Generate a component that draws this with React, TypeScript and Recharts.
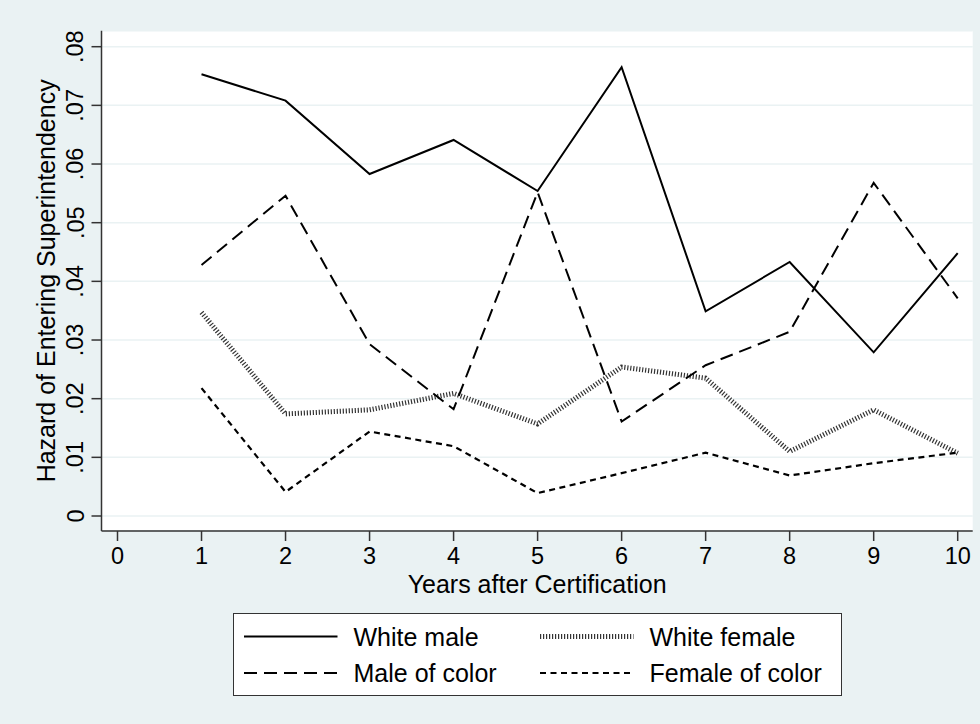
import React from 'react';
import { LineChart, Line, XAxis, YAxis, CartesianGrid, Legend, Label } from 'recharts';

const years = [1, 2, 3, 4, 5, 6, 7, 8, 9, 10];
const whiteMale = [0.0753, 0.0708, 0.0583, 0.0641, 0.0554, 0.0765, 0.0349, 0.0433, 0.0279, 0.0448];
const whiteFemale = [0.0347, 0.0174, 0.0181, 0.0209, 0.0157, 0.0254, 0.0235, 0.011, 0.0181, 0.0107];
const maleOfColor = [0.0428, 0.0546, 0.0293, 0.0182, 0.0552, 0.0161, 0.0257, 0.0314, 0.0568, 0.0371];
const femaleOfColor = [0.0218, 0.0041, 0.0144, 0.0119, 0.0039, 0.0073, 0.0108, 0.0069, 0.009, 0.0108];
const xTicks = [0, 1, 2, 3, 4, 5, 6, 7, 8, 9, 10];
const yTicks = [0, 0.01, 0.02, 0.03, 0.04, 0.05, 0.06, 0.07, 0.08];
const seriesKeys = ['wm', 'wf', 'mc', 'fc'];
const seriesNames = ['White male', 'White female', 'Male of color', 'Female of color'];
const xTitle = 'Years after Certification';
const yTitle = 'Hazard of Entering Superintendency';

const data = years.map((y, i) => ({
  year: y,
  wm: whiteMale[i],
  wf: whiteFemale[i],
  mc: maleOfColor[i],
  fc: femaleOfColor[i],
}));

const FONT = '"Liberation Sans", Arial, Helvetica, sans-serif';
const BG = '#eaf2f3';
const AXIS = '#333333';

const styles: Record<string, { stroke: string; width: number; dash?: string }> = {
  wm: { stroke: '#000', width: 2 },
  wf: { stroke: '#333333', width: 5, dash: '1.2 1.8' },
  mc: { stroke: '#000', width: 2, dash: '13 7' },
  fc: { stroke: '#000', width: 2.2, dash: '6 4.5' },
};

const fmtY = (v: number) => (v === 0 ? '0' : v.toFixed(2).replace(/^0/, ''));

const YTick = (props: any) => {
  const { x, y, payload } = props;
  return (
    <text
      x={x}
      y={y}
      transform={`rotate(-90 ${x} ${y})`}
      textAnchor="middle"
      fontSize={23.5}
      fontFamily={FONT}
      fill="#000"
    >
      {fmtY(payload.value)}
    </text>
  );
};

const YTitle = (props: any) => {
  const vb = props.viewBox || { x: 0, y: 0, width: 0, height: 0 };
  const cx = 55;
  const cy = vb.y + vb.height / 2;
  return (
    <text
      x={cx}
      y={cy}
      transform={`rotate(-90 ${cx} ${cy})`}
      textAnchor="middle"
      fontSize={25}
      fontFamily={FONT}
      fill="#000"
    >
      {yTitle}
    </text>
  );
};

const XTitle = (props: any) => {
  const vb = props.viewBox || { x: 0, y: 0, width: 0, height: 0 };
  return (
    <text
      x={vb.x + vb.width / 2}
      y={vb.y + 62}
      textAnchor="middle"
      fontSize={25}
      fontFamily={FONT}
      fill="#000"
    >
      {xTitle}
    </text>
  );
};

const renderLegend = () => {
  const colX = [10, 306];
  const rowLine = [22.5, 59];
  const rowBase = [31.5, 68];
  return (
    <div
      style={{
        width: 609,
        height: 83,
        boxSizing: 'border-box',
        border: '1.5px solid #333',
        background: '#fff',
      }}
    >
      <svg width={606} height={80} style={{ display: 'block' }}>
        {seriesKeys.map((k, i) => {
          const col = i % 2;
          const row = Math.floor(i / 2);
          const s = styles[k];
          return (
            <g key={k}>
              <line
                x1={colX[col]}
                x2={colX[col] + 93.5}
                y1={rowLine[row]}
                y2={rowLine[row]}
                stroke={s.stroke}
                strokeWidth={s.width}
                strokeDasharray={s.dash}
              />
              <text
                x={colX[col] + 109.5}
                y={rowBase[row]}
                fontSize={25}
                fontFamily={FONT}
                fill="#000"
              >
                {seriesNames[i]}
              </text>
            </g>
          );
        })}
      </svg>
    </div>
  );
};

export default function App() {
  return (
    <div style={{ position: 'absolute', left: 0, top: 0, width: 980, height: 724, background: BG }}>
      <LineChart
        width={980}
        height={724}
        data={data}
        margin={{ top: 30.7, right: 7.3, bottom: 131, left: 0 }}
        style={{ fontFamily: FONT }}
      >
        <CartesianGrid horizontal vertical={false} stroke={BG} strokeWidth={1.5} fill="#ffffff" />
        <XAxis
          type="number"
          dataKey="year"
          domain={[0, 10]}
          ticks={xTicks}
          interval={0}
          padding={{ left: 16, right: 15 }}
          height={62}
          tickSize={10}
          tickMargin={6}
          axisLine={{ stroke: AXIS, strokeWidth: 1.5 }}
          tickLine={{ stroke: AXIS, strokeWidth: 1.5 }}
          tick={{ fontSize: 23.5, fill: '#000', fontFamily: FONT }}
        >
          <Label content={<XTitle />} />
        </XAxis>
        <YAxis
          type="number"
          domain={[0, 0.08]}
          ticks={yTicks}
          interval={0}
          padding={{ top: 16, bottom: 15 }}
          width={101.5}
          tickSize={10}
          tickMargin={8}
          axisLine={{ stroke: AXIS, strokeWidth: 1.5 }}
          tickLine={{ stroke: AXIS, strokeWidth: 1.5 }}
          tick={<YTick />}
        >
          <Label content={<YTitle />} />
        </YAxis>
        {seriesKeys.map((k, i) => (
          <Line
            key={k}
            type="linear"
            dataKey={k}
            name={seriesNames[i]}
            stroke={styles[k].stroke}
            strokeWidth={styles[k].width}
            strokeDasharray={styles[k].dash}
            dot={false}
            activeDot={false}
            isAnimationActive={false}
          />
        ))}
        <Legend
          layout="horizontal"
          verticalAlign="middle"
          align="center"
          content={renderLegend}
          wrapperStyle={{ left: 233, top: 613, width: 609, height: 83 }}
        />
      </LineChart>
    </div>
  );
}
